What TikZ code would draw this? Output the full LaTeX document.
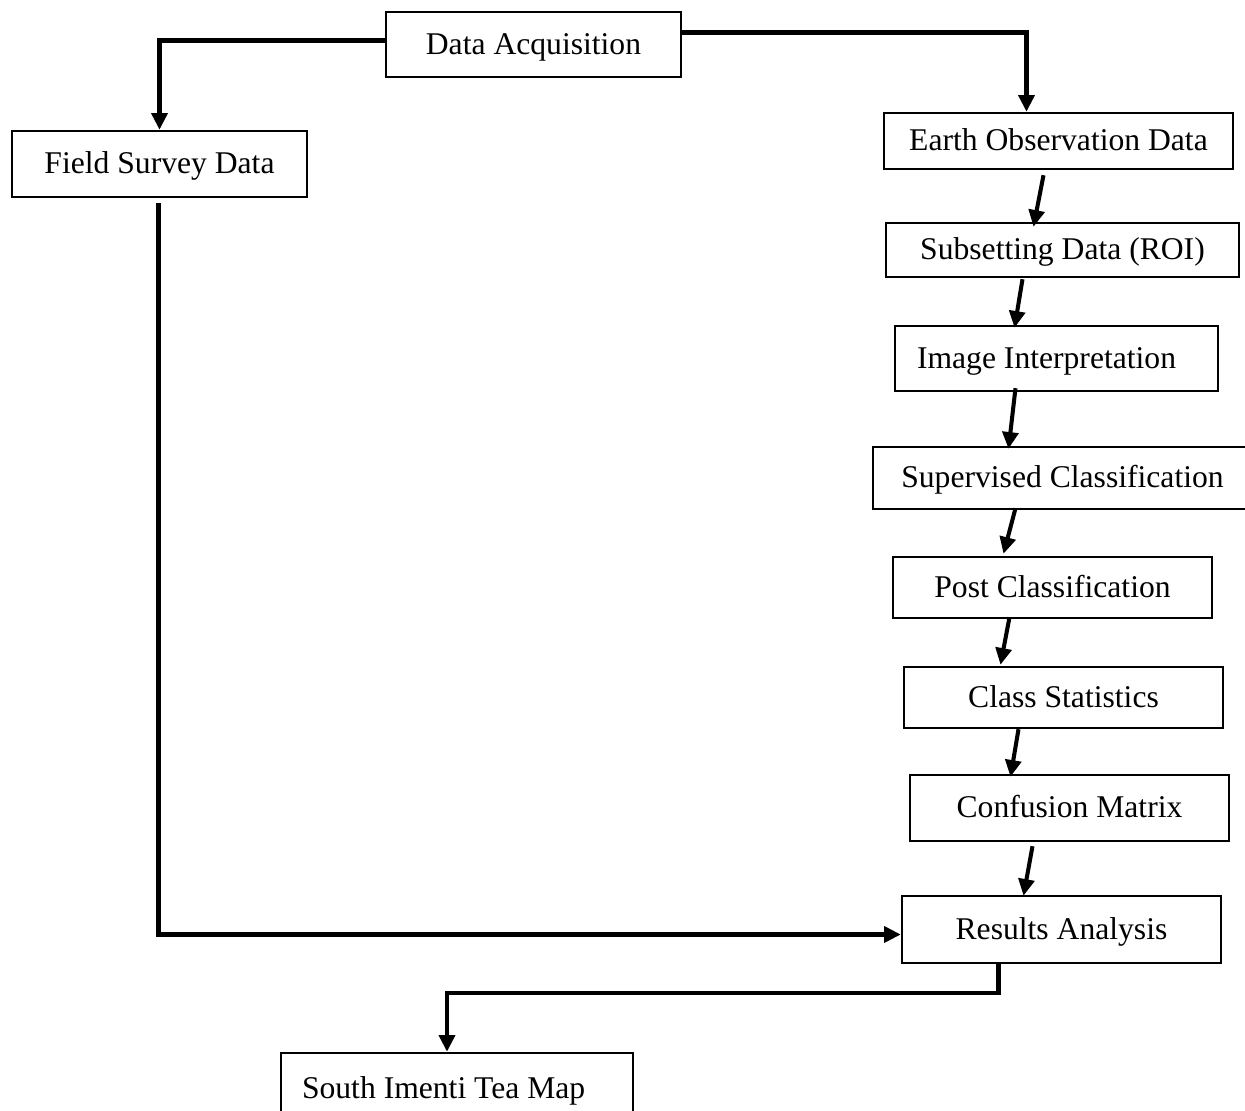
\documentclass[tikz,border=0pt]{standalone}
\usepackage{fontspec}
\setmainfont{Liberation Serif}
\usetikzlibrary{arrows.meta}

\begin{document}
\begin{tikzpicture}[
    x=0.02cm,
    y=-0.02cm,
    line join=miter,
    >={Triangle[length=9.5pt,width=9pt]},
    box/.style={draw, rectangle, line width=1.4pt, inner sep=0pt,
        font=\fontsize{18}{22}\selectfont,
        text height=1.1em, text depth=0em},
    leftbox/.style={box, align=flush left, inner xsep=#1, inner ysep=0pt},
    flow/.style={->, line width=2.3pt}
]

% -------------------------------------------------
% Page frame
% -------------------------------------------------
\useasboundingbox (0,0) rectangle (1245,1111);
\clip (0,0) rectangle (1245,1111);

% -------------------------------------------------
% Boxes
% -------------------------------------------------
\node[box, minimum width=5.90cm, minimum height=1.30cm] (acq)    at (533.5,44.5)  {Data Acquisition};
\node[box, minimum width=5.90cm, minimum height=1.32cm] (field)  at (159.5,164)   {Field Survey Data};
\node[box, minimum width=6.98cm, minimum height=1.12cm] (eo)     at (1058.5,141)  {Earth Observation Data};
\node[box, minimum width=7.06cm, minimum height=1.08cm] (subset) at (1062.5,250)  {Subsetting Data (ROI)};
\node[leftbox=0.44cm, text width=5.58cm, minimum height=1.30cm] (interp) at (1056.5,358.5) {Image Interpretation};
\node[box, minimum width=7.58cm, minimum height=1.24cm] (superv) at (1062.5,478)  {Supervised Classification};
\node[box, minimum width=6.38cm, minimum height=1.22cm] (post)   at (1052.5,587.5) {Post Classification};
\node[box, minimum width=6.38cm, minimum height=1.22cm] (stats)  at (1063.5,697.5) {Class Statistics};
\node[box, minimum width=6.38cm, minimum height=1.32cm] (conf)   at (1069.5,808)  {Confusion Matrix};
\node[box, minimum width=6.38cm, minimum height=1.34cm] (res)    at (1061.5,929.5) {Results Analysis};
\node[leftbox=0.42cm, text width=6.20cm, minimum height=1.44cm] (map) at (457,1089) {South Imenti Tea Map};

% -------------------------------------------------
% Connectors
% -------------------------------------------------
\draw[flow] ([shift={(0,-4)}]acq.west) -| (field.north);
\draw[flow] ([shift={(0,-12)}]acq.east) -| ([shift={(-32,0)}]eo.north);

% Slanted steps down the right column
\foreach \a/\b/\ax/\ay/\bx/\by in {
    eo/subset/-15/5/-29/5,
    subset/interp/-40/1/-42/3,
    interp/superv/-41/-4/-54/3,
    superv/post/-47/-2/-49/-2,
    post/stats/-43/-2/-63/-1,
    stats/conf/-45/0/-59/3,
    conf/res/-37/4/-38/1%
} {
    \draw[flow] ([shift={(\ax,\ay)}]\a.south) -- ([shift={(\bx,\by)}]\b.north);
}

\draw[flow] ([shift={(-1,5)}]field.south) |- ([shift={(0,5)}]res.west);
\draw[flow] ([shift={(-63,0)}]res.south) -- ++(0,29) -| ([shift={(-10,0)}]map.north);

\end{tikzpicture}
\end{document}
